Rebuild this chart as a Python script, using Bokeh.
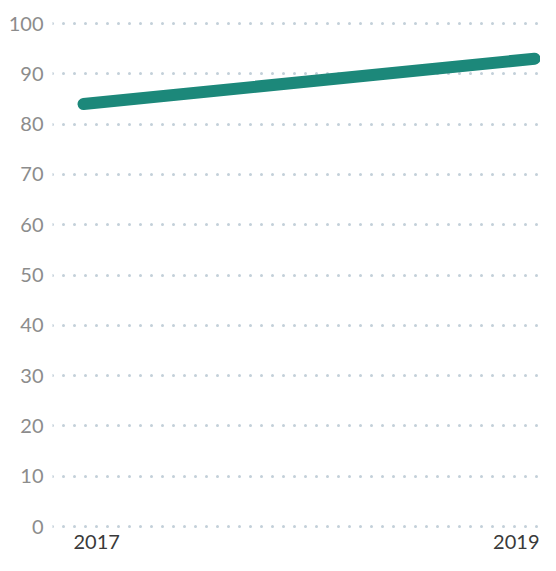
from bokeh.plotting import figure
from bokeh.models import Range1d, FixedTicker, Label, ColumnDataSource
from bokeh.embed import file_html
from bokeh.resources import INLINE

years = [2017, 2019]
values = [84, 93]
y_ticks = [0, 10, 20, 30, 40, 50, 60, 70, 80, 90, 100]
x_labels = ["2017", "2019"]

p = figure(width=540, height=555, output_backend="svg", toolbar_location=None,
           x_range=Range1d(2016.8625, 2019.0266), y_range=Range1d(-5.765, 101.99),
           min_border_left=52, min_border_right=0, min_border_top=13, min_border_bottom=0)
p.outline_line_color = None
p.background_fill_color = "white"

src = ColumnDataSource(dict(x=years, y=values))
p.line("x", "y", source=src, line_color="#1c887a", line_width=12, line_cap="round")

p.xaxis.visible = False
p.xgrid.visible = False
p.yaxis.ticker = FixedTicker(ticks=y_ticks)
p.yaxis.axis_line_color = None
p.yaxis.major_tick_line_color = None
p.yaxis.minor_tick_line_color = None
p.yaxis.major_label_standoff = 3
p.yaxis.major_label_text_font = "Lato"
p.yaxis.major_label_text_font_size = "20px"
p.yaxis.major_label_text_color = "#8c8c8c"
p.ygrid.ticker = FixedTicker(ticks=y_ticks)
p.ygrid.grid_line_color = "#c3d0d9"
p.ygrid.grid_line_width = 3
p.ygrid.grid_line_dash = "0 11"
p.ygrid.grid_line_cap = "round"

aligns = ["left", "right"]
offsets = [-10, 5]
for yr, lab, al, off in zip(years, x_labels, aligns, offsets):
    p.add_layout(Label(x=yr, y=7, y_units="screen", text=lab, text_align=al,
                       text_baseline="bottom", x_offset=off, text_font="Lato",
                       text_font_size="20px", text_color="#3a3a3a"))

open("out.html", "w").write(file_html(p, INLINE))
